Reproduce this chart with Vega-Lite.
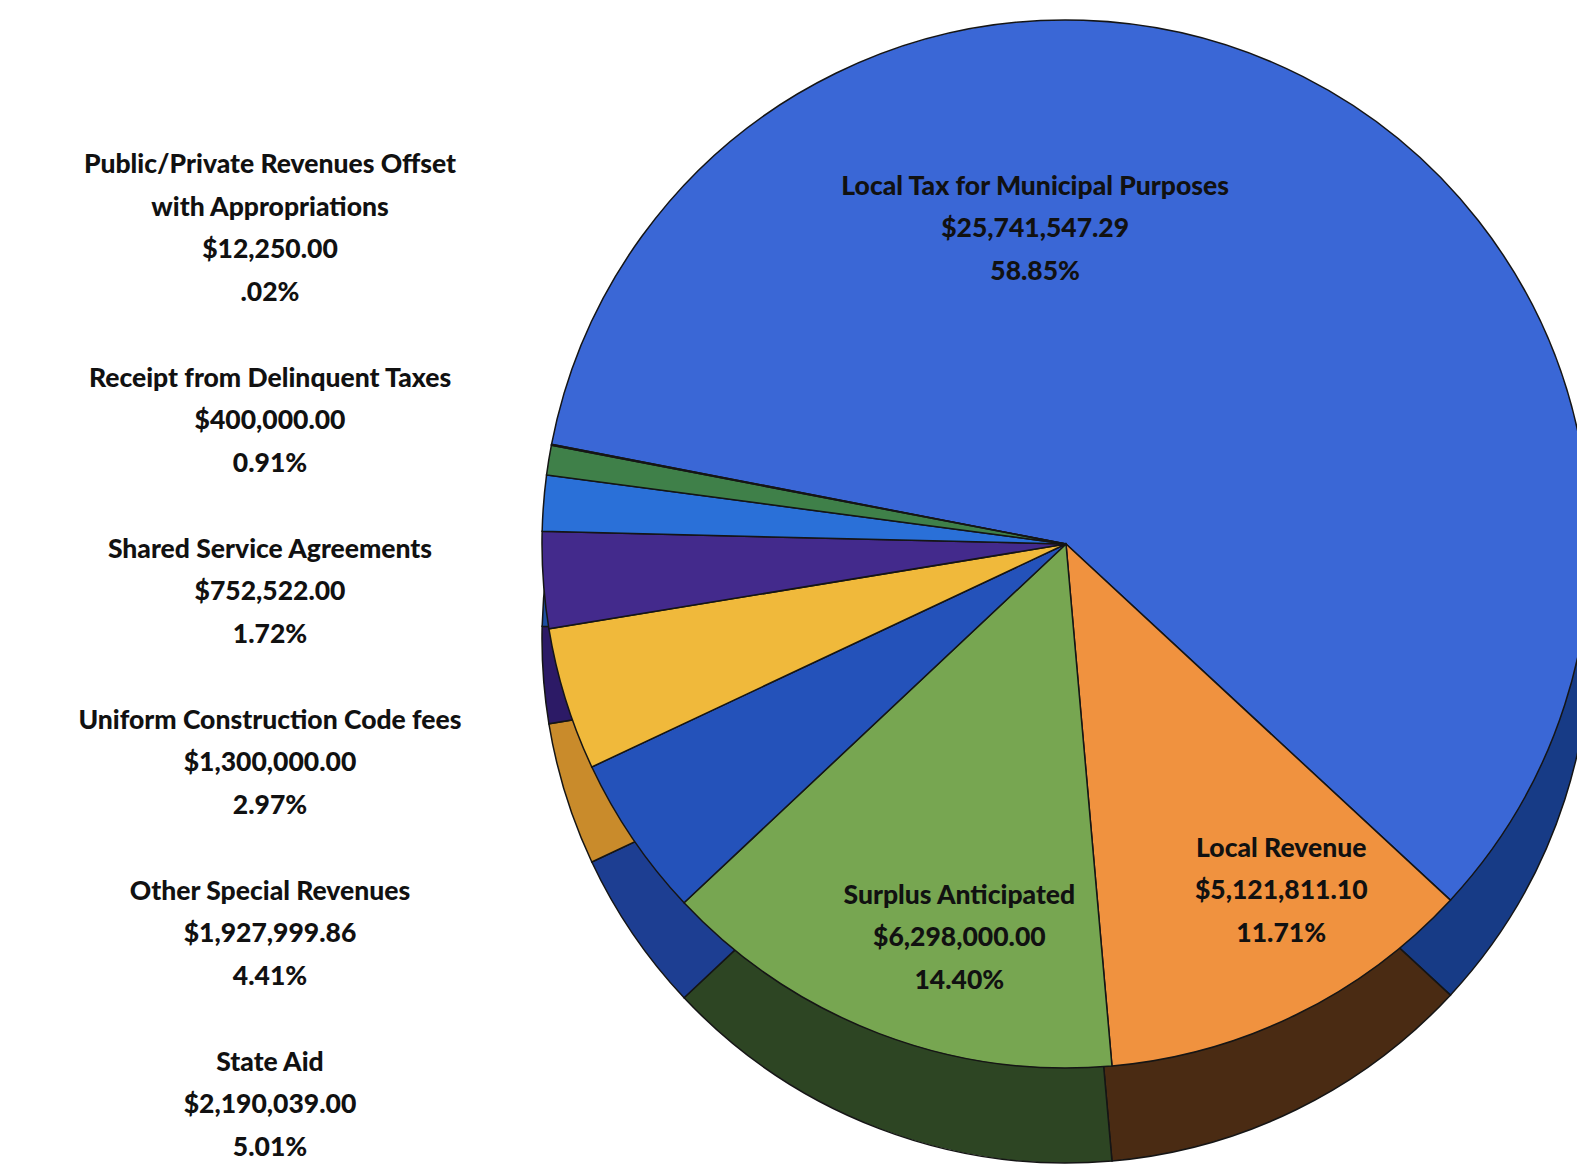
{
  "$schema": "https://vega.github.io/schema/vega-lite/v6.json",
  "width": 1022,
  "height": 1088,
  "autosize": {"type": "none"},
  "padding": {"left": 555, "top": 0, "right": 0, "bottom": 84},
  "background": "#ffffff",
  "view": {"stroke": null},
  "config": {
    "text": {"font": "Lato", "fontWeight": 900, "fontSize": 26.5, "color": "#111111"}
  },
  "data": {
    "values": [
      {"rank": 1, "category": "Local Tax for Municipal Purposes", "amount": 25741547.29, "pct": "58.85%"},
      {"rank": 2, "category": "Local Revenue", "amount": 5121811.10, "pct": "11.71%"},
      {"rank": 3, "category": "Surplus Anticipated", "amount": 6298000.00, "pct": "14.40%"},
      {"rank": 4, "category": "State Aid", "amount": 2190039.00, "pct": "5.01%"},
      {"rank": 5, "category": "Other Special Revenues", "amount": 1927999.86, "pct": "4.41%"},
      {"rank": 6, "category": "Uniform Construction Code fees", "amount": 1300000.00, "pct": "2.97%"},
      {"rank": 7, "category": "Shared Service Agreements", "amount": 752522.00, "pct": "1.72%"},
      {"rank": 8, "category": "Receipt from Delinquent Taxes", "amount": 400000.00, "pct": "0.91%"},
      {"rank": 9, "category": "Public/Private Revenues Offset\nwith Appropriations", "amount": 12250.00, "pct": ".02%"}
    ]
  },
  "layer": [
    {
      "mark": {"type": "arc", "outerRadius": 524, "yOffset": 95, "stroke": "#151515", "strokeWidth": 1.5},
      "encoding": {
        "theta": {"field": "amount", "type": "quantitative", "stack": true, "scale": {"range": [4.904, 11.187]}},
        "order": {"field": "rank", "type": "quantitative"},
        "color": {
          "field": "category", "type": "nominal", "legend": null,
          "scale": {
            "domain": ["Local Tax for Municipal Purposes", "Local Revenue", "Surplus Anticipated", "State Aid", "Other Special Revenues", "Uniform Construction Code fees", "Shared Service Agreements", "Receipt from Delinquent Taxes", "Public/Private Revenues Offset\nwith Appropriations"],
            "range": ["#173b86", "#4a2b13", "#2d4523", "#1d3e92", "#c98b2b", "#2c1a66", "#1d4ea0", "#285a30", "#7e3331"]
          }
        }
      }
    },
    {
      "mark": {"type": "arc", "outerRadius": 524, "stroke": "#151515", "strokeWidth": 1.5},
      "encoding": {
        "theta": {"field": "amount", "type": "quantitative", "stack": true, "scale": {"range": [4.904, 11.187]}},
        "order": {"field": "rank", "type": "quantitative"},
        "color": {
          "field": "category", "type": "nominal", "legend": null,
          "scale": {
            "domain": ["Local Tax for Municipal Purposes", "Local Revenue", "Surplus Anticipated", "State Aid", "Other Special Revenues", "Uniform Construction Code fees", "Shared Service Agreements", "Receipt from Delinquent Taxes", "Public/Private Revenues Offset\nwith Appropriations"],
            "range": ["#3a67d6", "#f0923f", "#77a651", "#2452ba", "#f0b93b", "#432a8c", "#2a70d8", "#3f8049", "#c0504d"]
          }
        }
      }
    },
    {
      "mark": {"type": "text", "baseline": "bottom", "dy": -28, "thetaOffset": -0.1},
      "encoding": {
        "theta": {"field": "amount", "type": "quantitative", "stack": true},
        "order": {"field": "rank", "type": "quantitative"},
        "radius": {"value": 408},
        "text": {"condition": {"test": "datum.rank == 2 || datum.rank == 3", "field": "category"}, "value": ""}
      }
    },
    {
      "mark": {"type": "text", "baseline": "middle", "thetaOffset": -0.1},
      "encoding": {
        "theta": {"field": "amount", "type": "quantitative", "stack": true},
        "order": {"field": "rank", "type": "quantitative"},
        "radius": {"value": 408},
        "text": {"condition": {"test": "datum.rank == 2 || datum.rank == 3", "field": "amount", "type": "quantitative", "format": "$,.2f"}, "value": ""}
      }
    },
    {
      "mark": {"type": "text", "baseline": "middle", "dy": 43, "thetaOffset": -0.1},
      "encoding": {
        "theta": {"field": "amount", "type": "quantitative", "stack": true},
        "order": {"field": "rank", "type": "quantitative"},
        "radius": {"value": 408},
        "text": {"condition": {"test": "datum.rank == 2 || datum.rank == 3", "field": "pct"}, "value": ""}
      }
    },
    {
      "mark": {"type": "text", "baseline": "bottom", "dy": -28, "thetaOffset": -0.567},
      "encoding": {
        "theta": {"field": "amount", "type": "quantitative", "stack": true},
        "order": {"field": "rank", "type": "quantitative"},
        "radius": {"value": 317},
        "text": {"condition": {"test": "datum.rank == 1", "field": "category"}, "value": ""}
      }
    },
    {
      "mark": {"type": "text", "baseline": "middle", "thetaOffset": -0.567},
      "encoding": {
        "theta": {"field": "amount", "type": "quantitative", "stack": true},
        "order": {"field": "rank", "type": "quantitative"},
        "radius": {"value": 317},
        "text": {"condition": {"test": "datum.rank == 1", "field": "amount", "type": "quantitative", "format": "$,.2f"}, "value": ""}
      }
    },
    {
      "mark": {"type": "text", "baseline": "middle", "dy": 43, "thetaOffset": -0.567},
      "encoding": {
        "theta": {"field": "amount", "type": "quantitative", "stack": true},
        "order": {"field": "rank", "type": "quantitative"},
        "radius": {"value": 317},
        "text": {"condition": {"test": "datum.rank == 1", "field": "pct"}, "value": ""}
      }
    },
    {
      "transform": [{"filter": "datum.rank >= 4 && datum.rank <= 8"}],
      "mark": {"type": "text", "baseline": "bottom", "dy": -28, "x": -285},
      "encoding": {
        "y": {"field": "category", "type": "nominal", "axis": null,
          "scale": {"type": "point", "padding": 0, "domain": ["Public/Private Revenues Offset\nwith Appropriations", "Receipt from Delinquent Taxes", "Shared Service Agreements", "Uniform Construction Code fees", "Other Special Revenues", "State Aid"], "range": [250, 1105]}},
        "text": {"field": "category"}
      }
    },
    {
      "transform": [{"filter": "datum.rank == 9"}],
      "mark": {"type": "text", "baseline": "bottom", "dy": -71, "x": -285, "lineBreak": "\n", "lineHeight": 43},
      "encoding": {
        "y": {"field": "category", "type": "nominal", "axis": null},
        "text": {"field": "category"}
      }
    },
    {
      "transform": [{"filter": "datum.rank >= 4"}],
      "mark": {"type": "text", "baseline": "middle", "x": -285},
      "encoding": {
        "y": {"field": "category", "type": "nominal", "axis": null},
        "text": {"field": "amount", "type": "quantitative", "format": "$,.2f"}
      }
    },
    {
      "transform": [{"filter": "datum.rank >= 4"}],
      "mark": {"type": "text", "baseline": "middle", "dy": 43, "x": -285},
      "encoding": {
        "y": {"field": "category", "type": "nominal", "axis": null},
        "text": {"field": "pct"}
      }
    }
  ],
  "resolve": {"scale": {"color": "independent"}}
}
